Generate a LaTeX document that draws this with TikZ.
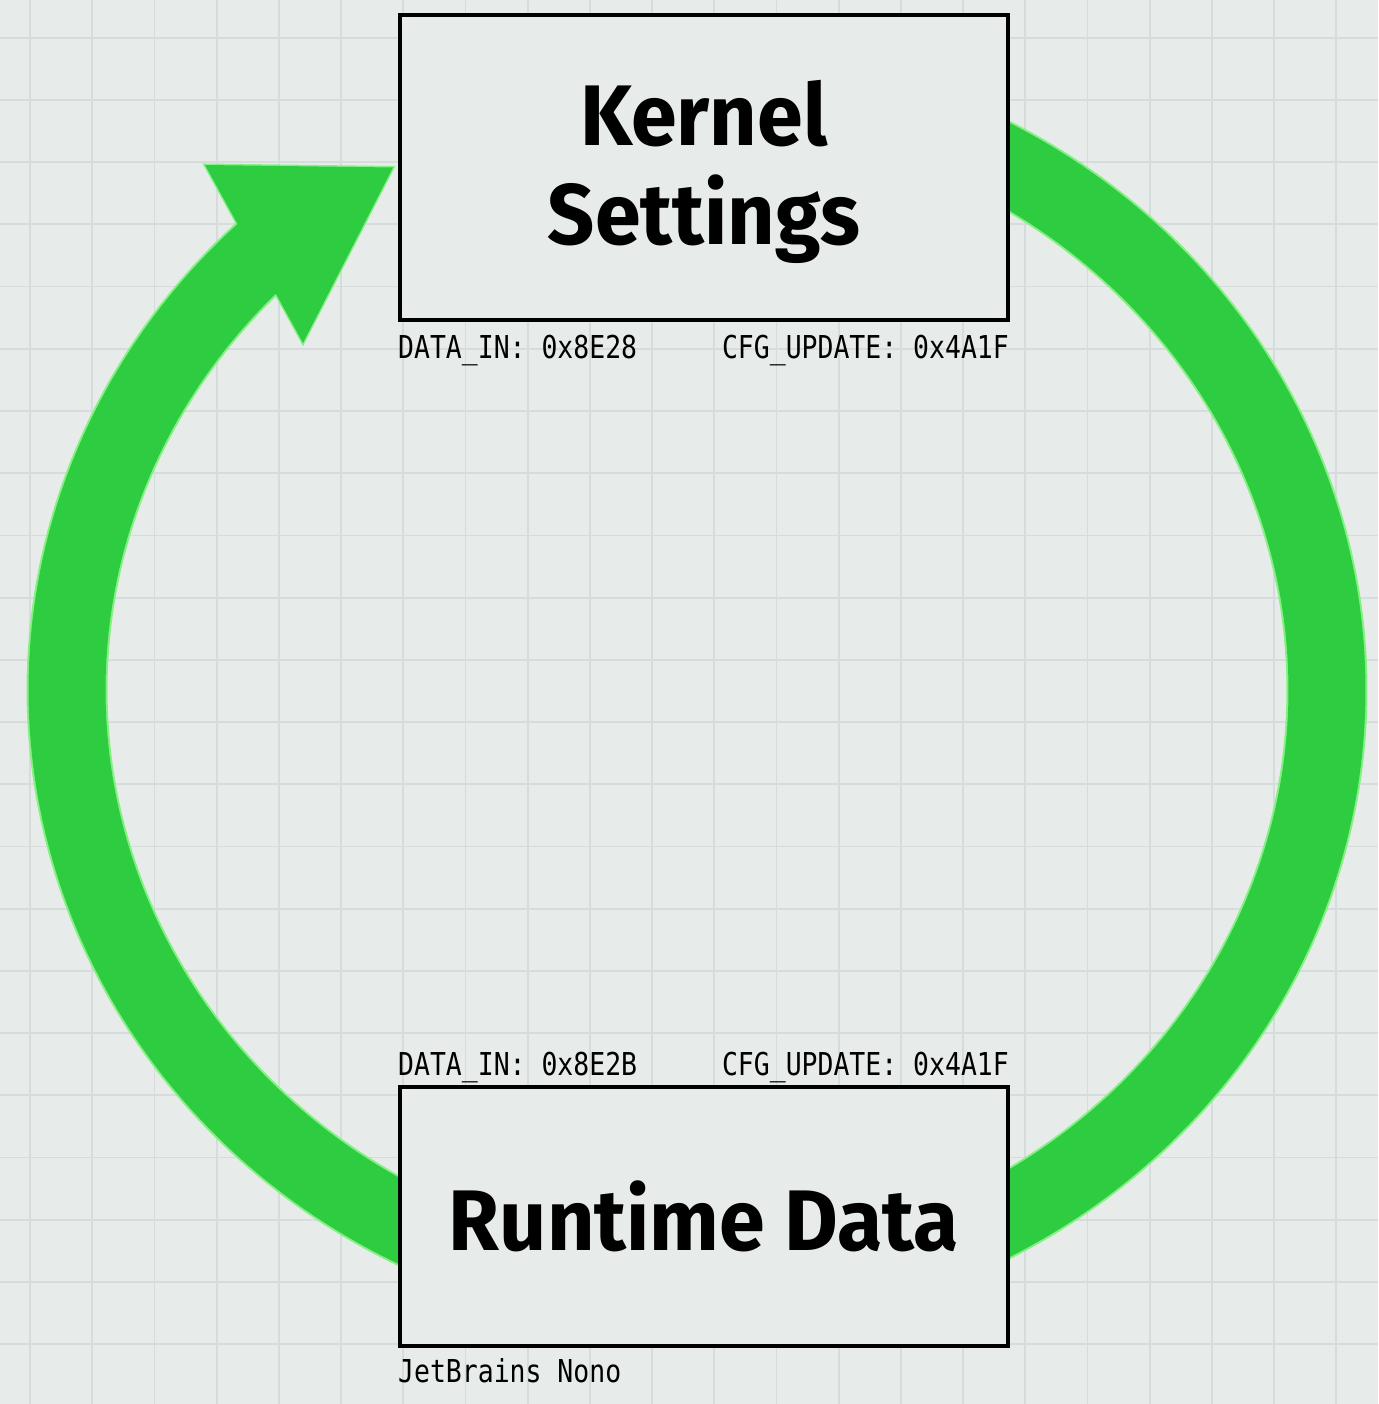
\documentclass[tikz,border=0pt]{standalone}
\usepackage{fontspec}
\usetikzlibrary{backgrounds}
\newfontfamily\titlefont[FakeStretch=0.96]{Fira Sans}
\newfontfamily\codefont[FakeStretch=0.84]{DejaVu Sans Mono}
\definecolor{bg}{HTML}{E7ECEB}
\definecolor{gridc}{HTML}{D6DBDB}
\definecolor{ringg}{HTML}{2ECC40}
\definecolor{halo}{HTML}{86F084}
\tikzset{
  box/.style={draw=black, line width=4pt, fill=bg, inner sep=0pt, align=center,
    font=\titlefont\fontsize{86}{95}\selectfont\bfseries},
  code/.style={inner sep=0pt, font=\codefont\fontsize{31.5}{36}\selectfont, text=black},
  gridline/.style={draw=gridc, line width=1.8pt},
}
\begin{document}
\begin{tikzpicture}[x=1pt,y=-1pt]
\useasboundingbox (0,0) rectangle (1378,1404);
% boxes
\node[box, minimum width=608pt, minimum height=305pt] (ks) at (704,167.5)
  {\begin{tabular}{@{}c@{}}\rule{0pt}{83.5pt}Kernel\\[1pt]Settings\end{tabular}};
\node[box, minimum width=608pt, minimum height=259pt] (rd) at (704,1216.5) {Runtime Data};
\coordinate (tip) at ([xshift=-5pt]ks.west);
\coordinate (hA) at (205,165);
\coordinate (hB) at (303,343);
\begin{pgfonlayer}{background}
\fill[bg] (0,0) rectangle (1378,1404);
\foreach \i in {0,...,21} \draw[gridline] ({30+62.2*\i},0) -- ({30+62.2*\i},1404);
\foreach \i in {0,...,21} \draw[gridline] (0,{37.8+62.2*\i}) -- (1378,{37.8+62.2*\i});
% ring halo
\draw[halo, line width=81pt] plot[domain=-75:227, samples=300] ({697+630*cos(\x)},{690+603*sin(\x)});
\filldraw[fill=halo, draw=halo, line width=3pt, line join=miter] (tip) -- (hA) -- (hB) -- cycle;
% ring and arrowhead
\draw[ringg, line width=77pt] plot[domain=-75:227, samples=300] ({697+630*cos(\x)},{690+603*sin(\x)});
\fill[ringg] (tip) -- (hA) -- (hB) -- cycle;
\end{pgfonlayer}
% labels
\node[code, anchor=base west] (a1) at (398,358) {DATA\_IN: 0x8E28};
\node[code, anchor=base east] (a2) at (1009,358) {CFG\_UPDATE: 0x4A1F};
\node[code, anchor=base west] (b1) at (398,1075) {DATA\_IN: 0x8E2B};
\node[code, anchor=base east] (b2) at (1009,1075) {CFG\_UPDATE: 0x4A1F};
\node[code, anchor=base west] (c1) at (398,1382) {JetBrains Nono};
\end{tikzpicture}
\end{document}
